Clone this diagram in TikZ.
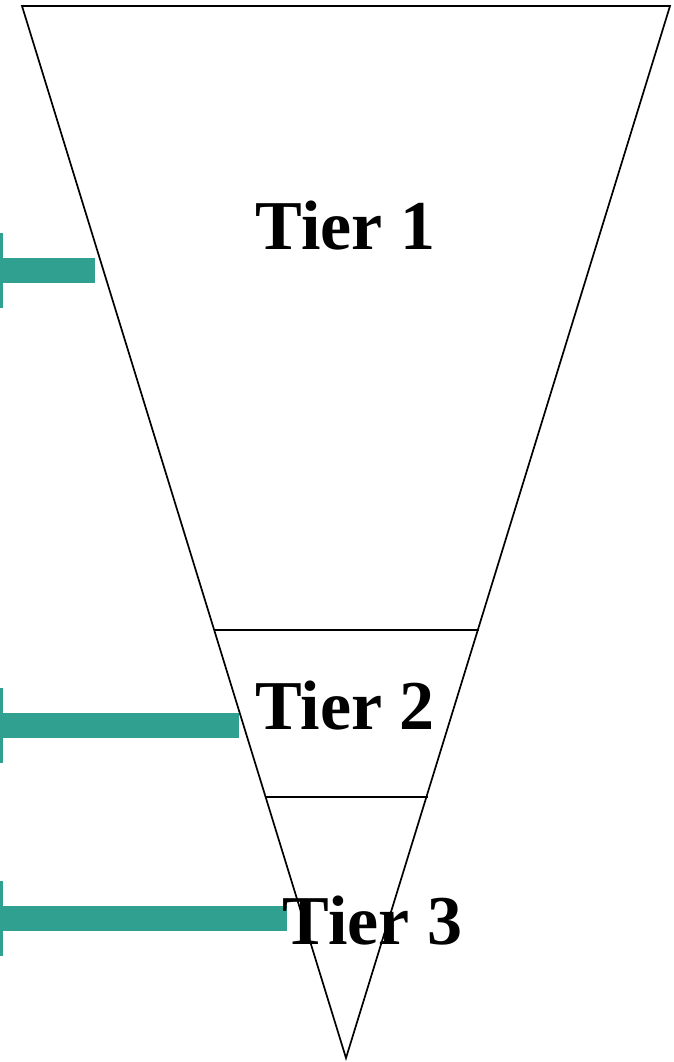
\documentclass[tikz,border=0pt]{standalone}
\usepackage{fontspec}
\setmainfont{Liberation Serif}
\usetikzlibrary{arrows.meta}
\definecolor{tierteal}{RGB}{48,160,144}
\begin{document}
\begin{tikzpicture}[x=1pt,y=-1pt]
    \tikzstyle{funnel}=[draw,line width=1.7pt,line join=miter];
    \tikzstyle{tier}=[font=\fontsize{70}{70}\selectfont\bfseries,inner sep=0pt,anchor=base];
    \tikzstyle{pointer}=[draw=tierteal,line width=25pt,{Bar[width=75pt,line width=3pt]}-];

    \useasboundingbox (0,0) rectangle (674,1062);

    \coordinate (tl) at (22,6);
    \coordinate (tr) at (670,6);
    \coordinate (apex) at (346,1058);
    \coordinate (c1l) at (214,630);
    \coordinate (c1r) at (479,630);
    \coordinate (c2l) at (265,797);
    \coordinate (c2r) at (428,797);

    \draw[funnel] (tl) -- (tr) -- (apex) -- cycle;
    \draw[funnel] (c1l) -- (c1r);
    \draw[funnel] (c2l) -- (c2r);

    \coordinate (p1) at (0,270);
    \coordinate (q1) at (95,270);
    \coordinate (p2) at (0,725);
    \coordinate (q2) at (239,725);
    \coordinate (p3) at (0,918);
    \coordinate (q3) at (287,918);

    \draw[pointer] (p1) -- (q1);
    \draw[pointer] (p2) -- (q2);
    \draw[pointer] (p3) -- (q3);

    \node[tier] (t1) at (345.5,249) {Tier 1};
    \node[tier] (t2) at (345,729) {Tier 2};
    \node[tier] (t3) at (372.5,944) {Tier 3};
\end{tikzpicture}
\end{document}
